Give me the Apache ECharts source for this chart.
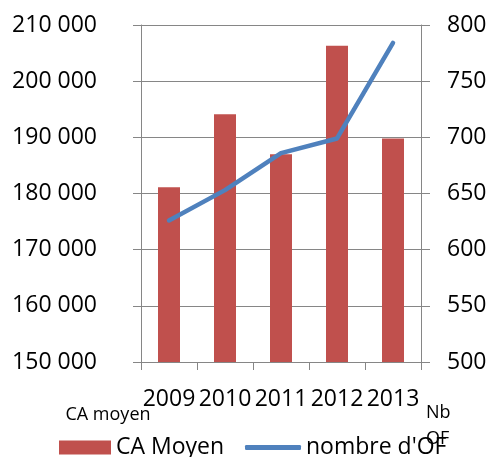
<!DOCTYPE html>
<html>
<head>
<meta charset="utf-8">
<script src="https://cdn.jsdelivr.net/npm/echarts@6/dist/echarts.min.js"></script>
<style>
  html, body { margin: 0; padding: 0; background: #fff; }
  #chart { width: 489px; height: 457px; }
</style>
</head>
<body>
<div id="chart"></div>
<script>
const years = ['2009', '2010', '2011', '2012', '2013'];
const caMoyen = [181100, 194100, 187000, 206300, 189800];
const nombreOF = [626, 653, 686, 699, 784];

const FONT = '"Open Sans", "Noto Sans", sans-serif';
const GRAY = '#868686';

// "210000" -> "210 000"
const spaced = (v) => String(v).replace(/\B(?=(\d{3})+(?!\d))/g, ' ');

const chart = echarts.init(document.getElementById('chart'));

chart.setOption({
  animation: false,
  backgroundColor: '#fff',
  textStyle: { fontFamily: FONT, color: '#000' },
  grid: { left: 141, right: 68, top: 25, bottom: 95, outerBoundsMode: 'none', containLabel: false },
  legend: [
    {
      data: ['CA Moyen'],
      left: 54,
      top: 431,
      icon: 'rect',
      itemWidth: 52,
      itemHeight: 14,
      textStyle: { fontFamily: FONT, fontSize: 23, color: '#000' }
    },
    {
      data: ['nombre d\'OF'],
      left: 240,
      top: 431,
      icon: 'roundRect',
      itemWidth: 56,
      itemHeight: 5,
      textStyle: { fontFamily: FONT, fontSize: 23, color: '#000' }
    }
  ],
  xAxis: {
    type: 'category',
    data: years,
    axisLine: { lineStyle: { color: GRAY, width: 1 } },
    axisTick: { show: true, length: 8, lineStyle: { color: GRAY } },
    axisLabel: { margin: 26, fontSize: 23, color: '#000', fontFamily: FONT, interval: 0 }
  },
  yAxis: [
    {
      type: 'value',
      min: 150000,
      max: 210000,
      interval: 10000,
      name: 'CA moyen',
      nameLocation: 'start',
      nameGap: 53,
      nameMoveOverlap: false,
      nameTextStyle: {
        fontSize: 18, color: '#000', fontFamily: FONT,
        align: 'center', verticalAlign: 'middle', padding: [0, 66, 0, 0]
      },
      axisLine: { show: true, lineStyle: { color: GRAY, width: 1 } },
      axisTick: { show: true, length: 8, lineStyle: { color: GRAY } },
      splitLine: { show: true, lineStyle: { color: GRAY, width: 1 } },
      axisLabel: { margin: 44, fontSize: 23, color: '#000', fontFamily: FONT, formatter: spaced }
    },
    {
      type: 'value',
      min: 500,
      max: 800,
      interval: 50,
      position: 'right',
      name: 'Nb\nOF',
      nameLocation: 'start',
      nameGap: 64,
      nameMoveOverlap: false,
      nameTextStyle: {
        fontSize: 18, color: '#000', fontFamily: FONT, lineHeight: 26,
        align: 'left', verticalAlign: 'middle', padding: [0, 0, 0, 5]
      },
      axisLine: { show: true, lineStyle: { color: GRAY, width: 1 } },
      axisTick: { show: true, length: 9, lineStyle: { color: GRAY } },
      splitLine: { show: false },
      axisLabel: { margin: 26, fontSize: 23, color: '#000', fontFamily: FONT }
    }
  ],
  series: [
    {
      name: 'CA Moyen',
      type: 'bar',
      data: caMoyen,
      barWidth: 22,
      itemStyle: { color: '#C0504D' }
    },
    {
      name: 'nombre d\'OF',
      type: 'line',
      yAxisIndex: 1,
      data: nombreOF,
      showSymbol: false,
      symbol: 'none',
      lineStyle: { color: '#4F81BD', width: 4.5, cap: 'round', join: 'round' },
      itemStyle: { color: '#4F81BD' }
    }
  ]
});
</script>
</body>
</html>
